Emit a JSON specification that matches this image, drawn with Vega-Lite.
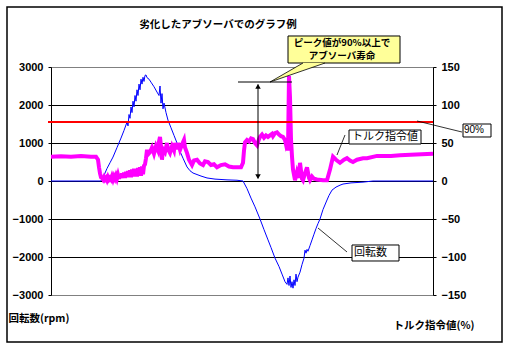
{
  "$schema": "https://vega.github.io/schema/vega-lite/v6.json",
  "width": 382,
  "height": 228,
  "autosize": {"type": "none"},
  "padding": {"left": 51, "top": 67, "right": 76, "bottom": 59},
  "background": "white",
  "config": {"view": {"stroke": "#808080", "strokeWidth": 1}, "font": "Noto Sans CJK JP"},
  "datasets": {
    "rpm": [
      {"t":0,"rpm":0},{"t":50,"rpm":0},{"t":53,"rpm":150},{"t":56,"rpm":330},{"t":59,"rpm":480},{"t":62,"rpm":630},{"t":66,"rpm":880},{"t":70,"rpm":1130},{"t":73,"rpm":1330},{"t":76,"rpm":1550},{"t":77,"rpm":1450},{"t":78,"rpm":1750},{"t":79,"rpm":1650},{"t":80,"rpm":1950},{"t":81,"rpm":1800},{"t":82,"rpm":2100},{"t":83,"rpm":1950},{"t":84,"rpm":2250},{"t":85,"rpm":2100},{"t":86,"rpm":2400},{"t":87,"rpm":2250},{"t":88,"rpm":2550},{"t":89,"rpm":2400},{"t":90,"rpm":2680},{"t":91,"rpm":2550},{"t":92,"rpm":2730},{"t":93,"rpm":2620},{"t":94,"rpm":2780},{"t":95,"rpm":2790},{"t":96,"rpm":2720},{"t":98,"rpm":2680},{"t":100,"rpm":2600},{"t":103,"rpm":2480},{"t":106,"rpm":2340},{"t":108,"rpm":2250},{"t":109,"rpm":2500},{"t":110,"rpm":2050},{"t":111,"rpm":2300},{"t":112,"rpm":1900},{"t":113,"rpm":2050},{"t":115,"rpm":1800},{"t":117,"rpm":1600},{"t":120,"rpm":1400},{"t":123,"rpm":1200},{"t":126,"rpm":1000},{"t":129,"rpm":780},{"t":132,"rpm":600},{"t":136,"rpm":370},{"t":139,"rpm":270},{"t":142,"rpm":210},{"t":146,"rpm":170},{"t":150,"rpm":130},{"t":156,"rpm":80},{"t":164,"rpm":50},{"t":176,"rpm":30},{"t":186,"rpm":20},{"t":192,"rpm":0},{"t":196,"rpm":-200},{"t":200,"rpm":-450},{"t":204,"rpm":-680},{"t":209,"rpm":-1000},{"t":213,"rpm":-1280},{"t":217,"rpm":-1550},{"t":220,"rpm":-1750},{"t":224,"rpm":-2030},{"t":228,"rpm":-2250},{"t":231,"rpm":-2450},{"t":234,"rpm":-2650},{"t":236,"rpm":-2720},{"t":237,"rpm":-2550},{"t":238,"rpm":-2750},{"t":239,"rpm":-2500},{"t":240,"rpm":-2800},{"t":241,"rpm":-2650},{"t":242,"rpm":-2820},{"t":243,"rpm":-2600},{"t":244,"rpm":-2750},{"t":245,"rpm":-2450},{"t":246,"rpm":-2650},{"t":247,"rpm":-2530},{"t":249,"rpm":-2400},{"t":251,"rpm":-2200},{"t":253,"rpm":-2030},{"t":254,"rpm":-1820},{"t":255,"rpm":-1900},{"t":256,"rpm":-1800},{"t":257,"rpm":-1850},{"t":259,"rpm":-1700},{"t":261,"rpm":-1550},{"t":263,"rpm":-1400},{"t":265,"rpm":-1250},{"t":267,"rpm":-1120},{"t":269,"rpm":-1000},{"t":272,"rpm":-750},{"t":276,"rpm":-500},{"t":278,"rpm":-380},{"t":281,"rpm":-240},{"t":285,"rpm":-160},{"t":289,"rpm":-110},{"t":292,"rpm":-80},{"t":300,"rpm":-50},{"t":312,"rpm":-30},{"t":322,"rpm":0},{"t":382,"rpm":0}
    ],
    "torque": [
      {"t":0,"pct":32},{"t":10,"pct":32.5},{"t":20,"pct":32},{"t":30,"pct":33},{"t":40,"pct":32},{"t":45,"pct":32},{"t":47,"pct":28},{"t":48,"pct":18},{"t":49,"pct":10},{"t":50,"pct":5},{"t":51,"pct":4},{"t":52,"pct":2},{"t":53,"pct":5},{"t":54,"pct":2},{"t":55,"pct":4},{"t":56,"pct":1},{"t":57,"pct":5},{"t":58,"pct":2},{"t":59,"pct":4},{"t":60,"pct":2},{"t":61,"pct":6},{"t":62,"pct":2},{"t":63,"pct":6},{"t":64,"pct":3},{"t":65,"pct":7},{"t":66,"pct":3},{"t":67,"pct":8},{"t":68,"pct":3},{"t":69,"pct":9},{"t":70,"pct":4},{"t":71,"pct":10},{"t":72,"pct":4},{"t":73,"pct":11},{"t":74,"pct":4},{"t":75,"pct":12},{"t":76,"pct":5},{"t":77,"pct":13},{"t":78,"pct":5},{"t":79,"pct":14},{"t":80,"pct":5},{"t":81,"pct":15},{"t":82,"pct":6},{"t":83,"pct":16},{"t":84,"pct":6},{"t":85,"pct":16},{"t":86,"pct":6},{"t":87,"pct":17},{"t":88,"pct":7},{"t":89,"pct":18},{"t":90,"pct":7},{"t":91,"pct":19},{"t":92,"pct":9},{"t":93,"pct":20},{"t":94,"pct":22},{"t":95,"pct":30},{"t":96,"pct":41},{"t":97,"pct":35},{"t":99,"pct":38},{"t":101,"pct":44},{"t":103,"pct":36},{"t":105,"pct":46},{"t":107,"pct":40},{"t":108,"pct":52},{"t":109,"pct":58},{"t":110,"pct":45},{"t":111,"pct":28},{"t":112,"pct":42},{"t":114,"pct":38},{"t":116,"pct":50},{"t":117,"pct":42},{"t":119,"pct":37},{"t":121,"pct":46},{"t":123,"pct":40},{"t":124,"pct":50},{"t":126,"pct":42},{"t":127,"pct":50},{"t":129,"pct":41},{"t":131,"pct":48},{"t":133,"pct":54},{"t":134,"pct":44},{"t":136,"pct":37},{"t":138,"pct":28},{"t":141,"pct":21},{"t":143,"pct":27},{"t":146,"pct":28},{"t":149,"pct":23},{"t":152,"pct":21},{"t":154,"pct":26},{"t":157,"pct":25},{"t":160,"pct":21},{"t":163,"pct":22},{"t":166,"pct":18},{"t":170,"pct":21},{"t":174,"pct":22},{"t":178,"pct":19},{"t":182,"pct":18},{"t":186,"pct":18},{"t":190,"pct":18},{"t":192,"pct":24},{"t":193,"pct":40},{"t":194,"pct":51},{"t":196,"pct":54},{"t":198,"pct":52},{"t":200,"pct":56},{"t":202,"pct":55},{"t":204,"pct":50},{"t":206,"pct":47},{"t":208,"pct":55},{"t":209,"pct":58},{"t":211,"pct":61},{"t":213,"pct":57},{"t":215,"pct":60},{"t":217,"pct":58},{"t":219,"pct":60},{"t":221,"pct":62},{"t":222,"pct":59},{"t":224,"pct":63},{"t":226,"pct":64},{"t":228,"pct":61},{"t":230,"pct":59},{"t":232,"pct":58},{"t":234,"pct":54},{"t":235,"pct":48},{"t":236,"pct":52},{"t":237,"pct":40},{"t":238,"pct":138},{"t":239,"pct":110},{"t":240,"pct":55},{"t":241,"pct":32},{"t":242,"pct":15},{"t":244,"pct":1},{"t":246,"pct":12},{"t":248,"pct":4},{"t":249,"pct":24},{"t":251,"pct":3},{"t":252,"pct":1},{"t":254,"pct":10},{"t":256,"pct":18},{"t":258,"pct":4},{"t":259,"pct":1},{"t":261,"pct":6},{"t":263,"pct":3},{"t":266,"pct":2},{"t":272,"pct":1},{"t":276,"pct":1},{"t":279,"pct":15},{"t":282,"pct":32},{"t":285,"pct":28},{"t":289,"pct":24},{"t":293,"pct":28},{"t":296,"pct":30},{"t":299,"pct":27},{"t":302,"pct":25},{"t":306,"pct":28},{"t":312,"pct":30},{"t":316,"pct":30},{"t":326,"pct":33},{"t":340,"pct":33},{"t":349,"pct":34},{"t":365,"pct":35},{"t":382,"pct":36}
    ],
    "wedge": [
      {"t":219,"top":2605,"bottom":2605},{"t":252,"top":3105,"bottom":2905},{"t":274,"top":3105,"bottom":3105}
    ]
  },
  "resolve": {"scale": {"y": "independent"}, "axis": {"y": "independent"}},
  "layer": [
    {
      "data": {"name": "rpm"},
      "mark": {"type": "line", "color": "#0000ff", "strokeWidth": 1},
      "encoding": {
        "x": {"field": "t", "type": "quantitative", "scale": {"domain": [0, 382], "nice": false, "zero": false}, "axis": null},
        "y": {"field": "rpm", "type": "quantitative", "scale": {"domain": [-3000, 3000], "nice": false},
          "axis": {"orient": "left", "values": [-3000, -2000, -1000, 0, 1000, 2000, 3000], "format": "d",
            "grid": true, "gridColor": {"condition": {"test": "abs(datum.value) == 3000", "value": "#808080"}, "value": "black"}, "gridWidth": 1,
            "domainColor": "black", "tickColor": "black", "tickSize": 3, "labelPadding": 5,
            "labelFont": "Liberation Sans", "labelFontWeight": "bold", "labelFontSize": 11, "labelColor": "black",
            "title": "回転数(rpm)", "titleAngle": 0, "titleX": -43, "titleY": 251, "titleAlign": "left", "titleBaseline": "middle",
            "titleFont": "Noto Sans CJK JP", "titleFontSize": 10.5, "titleFontWeight": "bold", "titleColor": "black"}}
      }
    },
    {
      "data": {"name": "torque"},
      "mark": {"type": "line", "color": "#ff00ff", "strokeWidth": 4},
      "encoding": {
        "x": {"field": "t", "type": "quantitative", "scale": {"domain": [0, 382], "nice": false, "zero": false}, "axis": null},
        "y": {"field": "pct", "type": "quantitative", "scale": {"domain": [-150, 150], "nice": false},
          "axis": {"orient": "right", "values": [-150, -100, -50, 0, 50, 100, 150], "format": "d", "grid": false,
            "domainColor": "black", "tickColor": "black", "tickSize": 3, "labelPadding": 5,
            "labelFont": "Liberation Sans", "labelFontWeight": "bold", "labelFontSize": 11, "labelColor": "black",
            "title": "トルク指令値(%)", "titleAngle": 0, "titleX": -40, "titleY": 258, "titleAlign": "left", "titleBaseline": "middle",
            "titleFont": "Noto Sans CJK JP", "titleFontSize": 10.5, "titleFontWeight": "bold", "titleColor": "black"}}
      }
    },
    {
      "layer": [
        {
          "data": {"values": [{}]},
          "mark": {"type": "rule", "color": "#ff0000", "strokeWidth": 2},
          "encoding": {
            "x": {"datum": -3, "type": "quantitative", "scale": {"domain": [0, 382], "nice": false, "zero": false}, "axis": null},
            "x2": {"datum": 382},
            "y": {"datum": 1553, "type": "quantitative", "scale": {"domain": [-3000, 3000], "nice": false, "zero": false}, "axis": null}
          }
        },
        {
          "data": {"values": [{}]},
          "mark": {"type": "text", "text": "劣化したアブソーバでのグラフ例", "align": "center", "baseline": "middle", "fontSize": 10.5, "fontWeight": "bold", "color": "black", "font": "Noto Sans CJK JP"},
          "encoding": {"x": {"datum": 167, "type": "quantitative"}, "y": {"datum": 4105, "type": "quantitative"}}
        },
        {
          "data": {"values": [{}]},
          "mark": {"type": "rule", "color": "black", "strokeWidth": 1},
          "encoding": {"x": {"datum": 187, "type": "quantitative"}, "x2": {"datum": 241}, "y": {"datum": 2605, "type": "quantitative"}}
        },
        {
          "data": {"values": [{}]},
          "mark": {"type": "rule", "color": "black", "strokeWidth": 1},
          "encoding": {"x": {"datum": 207, "type": "quantitative"}, "y": {"datum": 2540, "type": "quantitative"}, "y2": {"datum": 70}}
        },
        {
          "data": {"values": [{}]},
          "mark": {"type": "point", "shape": "triangle-up", "filled": true, "color": "black", "size": 30, "opacity": 1},
          "encoding": {"x": {"datum": 207, "type": "quantitative"}, "y": {"datum": 2490, "type": "quantitative"}}
        },
        {
          "data": {"values": [{}]},
          "mark": {"type": "point", "shape": "triangle-down", "filled": true, "color": "black", "size": 30, "opacity": 1},
          "encoding": {"x": {"datum": 207, "type": "quantitative"}, "y": {"datum": 115, "type": "quantitative"}}
        },
        {
          "data": {"values": [{}]},
          "mark": {"type": "rect", "fill": "#ffff99", "stroke": "black", "strokeWidth": 1},
          "encoding": {"x": {"datum": 237, "type": "quantitative"}, "x2": {"datum": 349}, "y": {"datum": 3816, "type": "quantitative"}, "y2": {"datum": 3105}}
        },
        {
          "data": {"name": "wedge"},
          "mark": {"type": "area", "fill": "#ffff99", "opacity": 1},
          "encoding": {"x": {"field": "t", "type": "quantitative"}, "y": {"field": "top", "type": "quantitative"}, "y2": {"field": "bottom"}}
        },
        {
          "data": {"values": [{}]},
          "mark": {"type": "rule", "color": "black", "strokeWidth": 0.8},
          "encoding": {"x": {"datum": 219, "type": "quantitative"}, "y": {"datum": 2605, "type": "quantitative"}, "x2": {"datum": 252}, "y2": {"datum": 3105}}
        },
        {
          "data": {"values": [{}]},
          "mark": {"type": "rule", "color": "black", "strokeWidth": 0.8},
          "encoding": {"x": {"datum": 219, "type": "quantitative"}, "y": {"datum": 2605, "type": "quantitative"}, "x2": {"datum": 274}, "y2": {"datum": 3105}}
        },
        {
          "data": {"values": [{}]},
          "mark": {"type": "text", "text": "ピーク値が90%以上で", "align": "center", "baseline": "middle", "fontSize": 9.5, "fontWeight": "bold", "color": "black", "font": "Noto Sans CJK JP"},
          "encoding": {"x": {"datum": 291, "type": "quantitative"}, "y": {"datum": 3620, "type": "quantitative"}}
        },
        {
          "data": {"values": [{}]},
          "mark": {"type": "text", "text": "アブソーバ寿命", "align": "center", "baseline": "middle", "fontSize": 9.5, "fontWeight": "bold", "color": "black", "font": "Noto Sans CJK JP"},
          "encoding": {"x": {"datum": 291, "type": "quantitative"}, "y": {"datum": 3285, "type": "quantitative"}}
        },
        {
          "data": {"values": [{}]},
          "mark": {"type": "rule", "color": "black", "strokeWidth": 0.8},
          "encoding": {"x": {"datum": 294, "type": "quantitative"}, "y": {"datum": 1211, "type": "quantitative"}, "x2": {"datum": 286}, "y2": {"datum": 684}}
        },
        {
          "data": {"values": [{}]},
          "mark": {"type": "rect", "fill": "white", "stroke": "black", "strokeWidth": 1},
          "encoding": {"x": {"datum": 298, "type": "quantitative"}, "x2": {"datum": 370}, "y": {"datum": 1342, "type": "quantitative"}, "y2": {"datum": 974}}
        },
        {
          "data": {"values": [{}]},
          "mark": {"type": "text", "text": "トルク指令値", "align": "left", "baseline": "middle", "fontSize": 11, "color": "black", "font": "Noto Sans CJK JP"},
          "encoding": {"x": {"datum": 301, "type": "quantitative"}, "y": {"datum": 1158, "type": "quantitative"}}
        },
        {
          "data": {"values": [{}]},
          "mark": {"type": "rule", "color": "black", "strokeWidth": 0.8},
          "encoding": {"x": {"datum": 366, "type": "quantitative"}, "y": {"datum": 1579, "type": "quantitative"}, "x2": {"datum": 411}, "y2": {"datum": 1289}}
        },
        {
          "data": {"values": [{}]},
          "mark": {"type": "rect", "fill": "white", "stroke": "black", "strokeWidth": 1},
          "encoding": {"x": {"datum": 412, "type": "quantitative"}, "x2": {"datum": 440}, "y": {"datum": 1500, "type": "quantitative"}, "y2": {"datum": 1158}}
        },
        {
          "data": {"values": [{}]},
          "mark": {"type": "text", "text": "90%", "align": "left", "baseline": "middle", "fontSize": 10, "color": "black", "font": "Liberation Sans"},
          "encoding": {"x": {"datum": 413, "type": "quantitative"}, "y": {"datum": 1329, "type": "quantitative"}}
        },
        {
          "data": {"values": [{}]},
          "mark": {"type": "rule", "color": "black", "strokeWidth": 0.8},
          "encoding": {"x": {"datum": 267, "type": "quantitative"}, "y": {"datum": -1237, "type": "quantitative"}, "x2": {"datum": 296}, "y2": {"datum": -1868}}
        },
        {
          "data": {"values": [{}]},
          "mark": {"type": "rect", "fill": "white", "stroke": "black", "strokeWidth": 1},
          "encoding": {"x": {"datum": 301, "type": "quantitative"}, "x2": {"datum": 348}, "y": {"datum": -1684, "type": "quantitative"}, "y2": {"datum": -2105}}
        },
        {
          "data": {"values": [{}]},
          "mark": {"type": "text", "text": "回転数", "align": "left", "baseline": "middle", "fontSize": 11, "color": "black", "font": "Noto Sans CJK JP"},
          "encoding": {"x": {"datum": 303, "type": "quantitative"}, "y": {"datum": -1895, "type": "quantitative"}}
        },
        {
          "data": {"values": [{}]},
          "mark": {"type": "rect", "fill": "transparent", "stroke": "black", "strokeWidth": 1.5},
          "encoding": {"x": {"datum": -44, "type": "quantitative"}, "x2": {"datum": 451}, "y": {"datum": 4579, "type": "quantitative"}, "y2": {"datum": -4237}}
        }
      ]
    }
  ]
}
